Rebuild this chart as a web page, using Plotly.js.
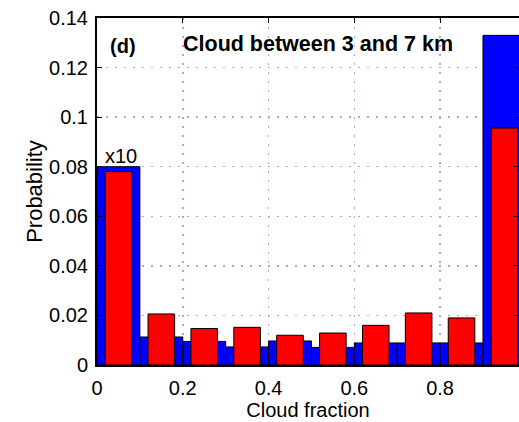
<!DOCTYPE html>
<html>
<head>
<meta charset="utf-8">
<script src="https://cdn.plot.ly/plotly-3.0.1.min.js"></script>
<style>html,body{margin:0;padding:0;background:#fff;}#chart{width:519px;height:422px;}</style>
</head>
<body>
<div id="chart"></div>
<script>
// Bin centres of cloud fraction histogram
const binCenters = [0.05, 0.15, 0.25, 0.35, 0.45, 0.55, 0.65, 0.75, 0.85, 0.95];
// Blue series (wider bars; first bin shown x10)
const blueProb = [0.0800, 0.0113, 0.0095, 0.0073, 0.0097, 0.0071, 0.0089, 0.0089, 0.0089, 0.1330];
// Red series (narrower bars)
const redProb = [0.0780, 0.0206, 0.0147, 0.0152, 0.0120, 0.0129, 0.0160, 0.0210, 0.0190, 0.0956];
const yTicks = [0, 0.02, 0.04, 0.06, 0.08, 0.1, 0.12, 0.14];
const xTicks = [0, 0.2, 0.4, 0.6, 0.8];

const font = {family: 'Arial, "Liberation Sans", Helvetica, sans-serif', size: 20, color: '#000'};

const data = [
  {type: 'bar', x: binCenters, y: blueProb, width: 0.1,
   marker: {color: '#0000ff', line: {color: '#000', width: 1}}, hoverinfo: 'x+y'},
  {type: 'bar', x: binCenters, y: redProb, width: 0.062,
   marker: {color: '#ff0000', line: {color: '#000', width: 1}}, hoverinfo: 'x+y'}
];

const layout = {
  width: 519, height: 422,
  margin: {l: 97, r: 0, t: 18, b: 57, pad: 0},
  paper_bgcolor: '#fff', plot_bgcolor: '#fff',
  showlegend: false,
  barmode: 'overlay',
  font: font,
  xaxis: {
    range: [0, 0.984], tickvals: xTicks, ticktext: xTicks.map(String),
    ticks: 'inside', ticklen: 5, tickcolor: '#000', mirror: 'ticks',
    showline: true, linecolor: '#000', linewidth: 2,
    showgrid: true, gridcolor: '#a7a7ee', griddash: '2px,7px', gridwidth: 1.5,
    zeroline: false, tickfont: font, ticklabelstandoff: 4,
    title: {text: 'Cloud fraction', font: font, standoff: 4}
  },
  yaxis: {
    range: [0, 0.14], tickvals: yTicks, ticktext: yTicks.map(String),
    ticks: 'inside', ticklen: 5, tickcolor: '#000', mirror: 'ticks',
    showline: true, linecolor: '#000', linewidth: 2,
    showgrid: true, gridcolor: '#a7a7ee', griddash: '2px,7px', gridwidth: 1.5,
    zeroline: false, tickfont: font, ticklabelstandoff: 3,
    title: {text: 'Probability', font: Object.assign({}, font, {size: 22}), standoff: 0}
  },
  annotations: [
    {text: '<b>(d)</b>', xref: 'paper', yref: 'paper', x: 0.062, y: 0.918, xanchor: 'center', yanchor: 'middle',
     showarrow: false, font: Object.assign({}, font, {size: 20})},
    {text: '<b>Cloud between 3 and 7 km</b>', xref: 'paper', yref: 'paper', x: 0.523, y: 0.925,
     xanchor: 'center', yanchor: 'middle', showarrow: false, font: Object.assign({}, font, {size: 21.5})},
    {text: 'x10', xref: 'x', yref: 'y', x: binCenters[0], y: blueProb[0], xanchor: 'center', yanchor: 'bottom',
     showarrow: false, font: font, yshift: -2, xshift: 3}
  ]
};

Plotly.newPlot('chart', data, layout, {displayModeBar: false, staticPlot: true});
</script>
</body>
</html>
